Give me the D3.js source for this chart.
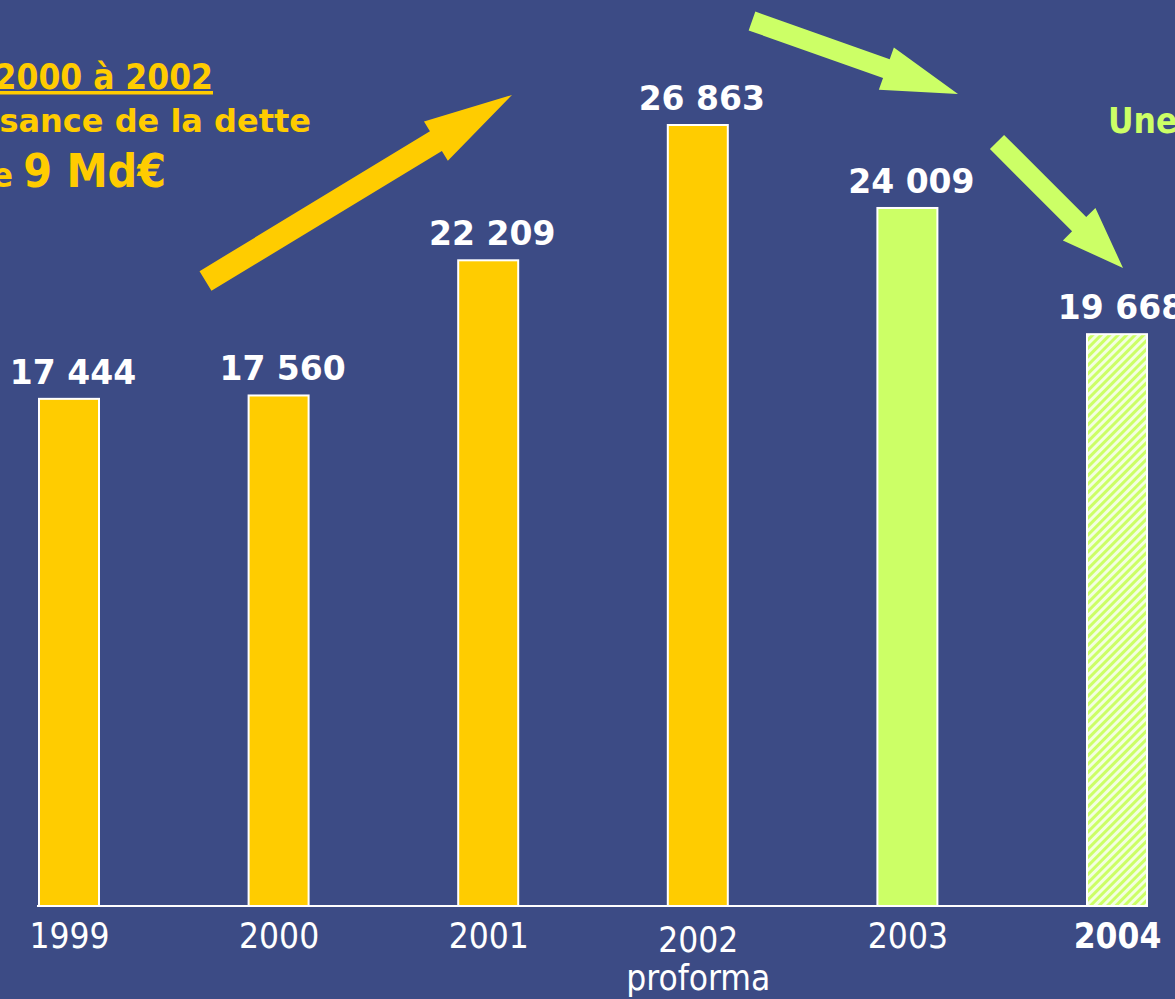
<!DOCTYPE html>
<html>
<head>
<meta charset="utf-8">
<script src="https://cdn.jsdelivr.net/npm/d3@7"></script>
<style>
    html, body { margin: 0; padding: 0; background: #3c4b85; }
    svg { display: block; }
    text { font-family: "DejaVu Sans", Verdana, sans-serif; }
    .cond { font-stretch: condensed; }
</style>
</head>
<body>
<div id="chart"></div>
<script>
// Dette (M€), 1999 -> 2004
const years = ["1999", "2000", "2001", "2002", "2003", "2004"];
const debt = [17444, 17560, 22209, 26863, 24009, 19668];
const phase = ["hausse", "hausse", "hausse", "hausse", "baisse", "objectif"];

const width = 1175;
const height = 999;
const baseline = 906;
const barWidth = 60;

const colors = {
    bg: "#3c4b85",
    yellow: "#ffcc00",
    green: "#ccff66",
    hatch: "#f3ffe0"
};

// annotation arrows: tail, tip, shaft width, head width, head length
const arrows = [
    {from: [205.5, 281], to: [512, 95], shaft: 23, head: 46, len: 89, color: colors.yellow},
    {from: [752, 21], to: [958, 94], shaft: 20, head: 45, len: 76, color: colors.green},
    {from: [997, 142], to: [1123, 268], shaft: 20, head: 46, len: 62, color: colors.green}
];

function arrowPath(a) {
    const [x0, y0] = a.from, [x1, y1] = a.to;
    const L = Math.hypot(x1 - x0, y1 - y0);
    const ux = (x1 - x0) / L, uy = (y1 - y0) / L;
    const nx = -uy, ny = ux;
    const bx = x1 - ux * a.len, by = y1 - uy * a.len;
    const s = a.shaft / 2, h = a.head / 2;
    const pts = [
        [x0 + nx * s, y0 + ny * s],
        [bx + nx * s, by + ny * s],
        [bx + nx * h, by + ny * h],
        [x1, y1],
        [bx - nx * h, by - ny * h],
        [bx - nx * s, by - ny * s],
        [x0 - nx * s, y0 - ny * s]
    ];
    return "M" + pts.map(p => p.join(",")).join("L") + "Z";
}

const fr = d3.formatLocale({decimal: ",", thousands: "\u00a0", grouping: [3], currency: ["", " €"]});
const fmt = fr.format(",d");

const svg = d3.select("#chart").append("svg")
    .attr("width", width)
    .attr("height", height)
    .attr("viewBox", [0, 0, width, height]);

svg.append("rect")
    .attr("width", width)
    .attr("height", height)
    .attr("fill", colors.bg);

// hatch for the 2004 bar
svg.append("defs").append("pattern")
        .attr("id", "hatch")
        .attr("patternUnits", "userSpaceOnUse")
        .attr("width", 6)
        .attr("height", 6)
        .attr("patternTransform", "rotate(45)")
    .call(p => p.append("rect").attr("width", 6).attr("height", 6).attr("fill", colors.hatch))
    .call(p => p.append("rect").attr("width", 3).attr("height", 6).attr("fill", colors.green));

const x = d3.scalePoint()
    .domain(years)
    .range([69, 1117]);

const y = d3.scaleLinear()
    .domain([0, 30000])
    .range([baseline, 33.8]);

const data = years.map((yr, i) => ({year: yr, value: debt[i], phase: phase[i]}));

const fill = d => d.phase === "hausse" ? colors.yellow
    : d.phase === "baisse" ? colors.green : "url(#hatch)";

// bars
svg.append("g")
        .attr("stroke", "white")
        .attr("stroke-width", 2)
    .selectAll("rect")
    .data(data)
    .join("rect")
        .attr("x", d => x(d.year) - barWidth / 2)
        .attr("y", d => y(d.value))
        .attr("width", barWidth)
        .attr("height", d => y(0) - y(d.value))
        .attr("fill", fill);

// baseline
svg.append("line")
    .attr("x1", x(years[0]) - barWidth / 2 - 2)
    .attr("x2", x(years[years.length - 1]) + barWidth / 2 + 1)
    .attr("y1", baseline)
    .attr("y2", baseline)
    .attr("stroke", "white")
    .attr("stroke-width", 2);

// value labels
svg.append("g")
        .attr("fill", "white")
        .attr("font-weight", "bold")
        .attr("font-size", 33)
        .attr("text-anchor", "middle")
    .selectAll("text")
    .data(data)
    .join("text")
        .attr("x", d => x(d.year) + 4)
        .attr("y", d => y(d.value) - 15)
        .text(d => fmt(d.value));

// x axis labels
const axis = svg.append("g")
    .attr("transform", `translate(0,${baseline})`)
    .call(d3.axisBottom(x).tickSize(0).tickPadding(0))
    .call(g => g.select(".domain").remove());

axis.selectAll("text")
    .attr("class", "cond")
    .attr("fill", "white")
    .attr("font-family", "'DejaVu Sans', sans-serif")
    .attr("font-size", 35)
    .attr("dy", 0)
    .attr("y", d => d === "2002" ? 46 : 42)
    .attr("font-weight", d => d === "2004" ? "bold" : "normal");

axis.selectAll(".tick")
    .filter(d => d === "2002")
    .append("text")
        .attr("class", "cond")
        .attr("fill", "white")
        .attr("font-family", "'DejaVu Sans', sans-serif")
        .attr("font-size", 35)
        .attr("text-anchor", "middle")
        .attr("y", 84)
        .text("proforma");

// arrows
svg.append("g")
    .selectAll("path")
    .data(arrows)
    .join("path")
        .attr("d", arrowPath)
        .attr("fill", d => d.color);

// annotation, top left (cut by the frame)
const note = svg.append("g")
    .attr("fill", colors.yellow)
    .attr("font-weight", "bold")
    .attr("text-anchor", "end");

note.append("text")
    .attr("class", "cond")
    .attr("x", 213)
    .attr("y", 89)
    .attr("font-size", 35)
    .attr("text-decoration", "underline")
    .text("2000 à 2002");

note.append("text")
    .attr("x", 311)
    .attr("y", 132)
    .attr("font-size", 32)
    .text("sance de la dette");

note.append("text")
    .attr("class", "cond")
    .attr("x", 166)
    .attr("y", 187)
    .call(t => t.append("tspan").attr("font-size", 33).text("e "))
    .call(t => t.append("tspan").attr("font-size", 46).text("9 Md€"));

// annotation, top right
svg.append("text")
    .attr("class", "cond")
    .attr("x", 1108)
    .attr("y", 133)
    .attr("fill", colors.green)
    .attr("font-weight", "bold")
    .attr("font-size", 35)
    .text("Une");
</script>
</body>
</html>
